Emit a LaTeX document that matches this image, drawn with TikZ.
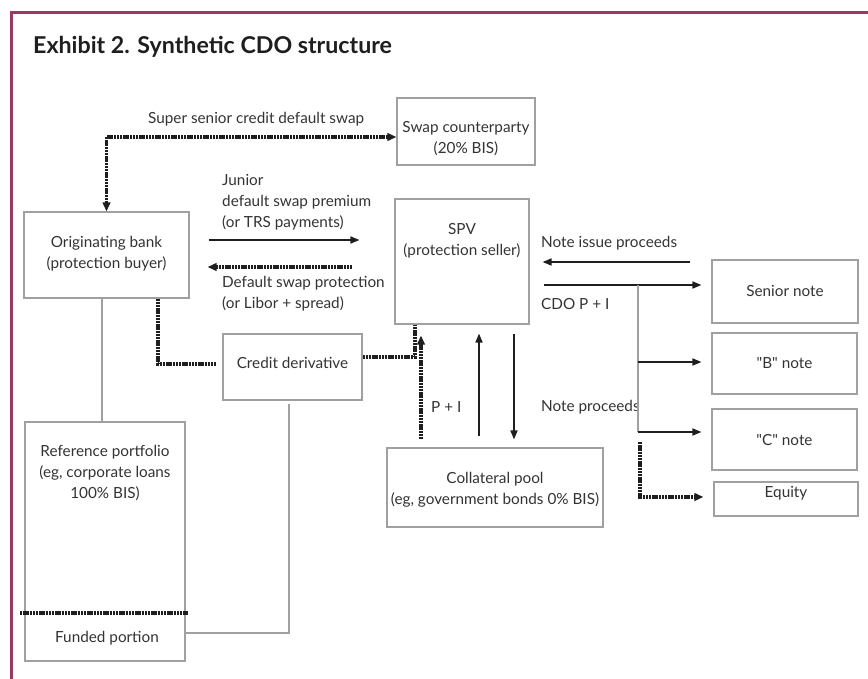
\documentclass[tikz,border=0pt]{standalone}
\usepackage{fontspec}
\setmainfont{Lato}
\usetikzlibrary{arrows.meta,calc}
\definecolor{frame}{HTML}{9A3A60}
\definecolor{boxgray}{HTML}{A0A0A0}
\definecolor{txt}{HTML}{333333}
\definecolor{ink}{HTML}{1E1E1E}
\tikzset{
  box/.style={draw=boxgray, line width=1.1pt, inner sep=0pt, minimum width=#1},
  lbl/.style={text=txt, inner sep=0pt, align=center, font=\fontsize{15.3}{21}\selectfont},
  sarr/.style={draw=ink, line width=1.6pt, -{Triangle[length=9pt,width=7pt]}},
  dotln/.style={draw=ink, line width=3.2pt, dash pattern=on 2.4pt off 0.8pt},
  darr/.style={dotln, -{Triangle[length=9pt,width=7.5pt]}},
  gline/.style={draw=boxgray, line width=1.1pt},
}
\begin{document}
\begin{tikzpicture}[x=1pt,y=-1pt]
\useasboundingbox (0,0) rectangle (868,679);
% frame
\draw[frame, line width=3pt] (11,679) -- (11,13) -- (868,13);
\node[anchor=base west, inner sep=0pt, text=ink, font=\fontsize{23.2}{27}\selectfont\bfseries] (title) at (33,54) {Exhibit 2. Synthetic CDO structure};

% boxes
\node[box=138pt, minimum height=67pt] (swap) at (466,131.5) {};
\node[box=165pt, minimum height=86pt] (orig) at (106.5,255) {};
\node[box=134pt, minimum height=125pt] (spv) at (462,261.5) {};
\node[box=146pt, minimum height=63pt] (senior) at (785,291.5) {};
\node[box=145pt, minimum height=61pt] (bnote) at (784.5,363.5) {};
\node[box=145pt, minimum height=61pt] (cnote) at (784.5,439.5) {};
\node[box=144pt, minimum height=34pt] (equity) at (786,499) {};
\node[box=216pt, minimum height=79pt] (coll) at (495,487.5) {};
\node[box=139pt, minimum height=66pt] (cred) at (292.5,367) {};
\node[box=160pt, minimum height=239pt] (ref) at (105,541.5) {};

% box texts
\node[lbl] (tswap) at (466,139) {Swap counterparty\\(20\% BIS)};
\node[lbl] (torig) at (106.5,254) {Originating bank\\(protection buyer)};
\node[lbl] (tspv) at (462,240.5) {SPV\\(protection seller)};
\node[lbl] (tsenior) at (785,291) {Senior note};
\node[lbl] (tb) at (784.5,363) {\textquotedbl B\textquotedbl\ note};
\node[lbl] (tc) at (784.5,440) {\textquotedbl C\textquotedbl\ note};
\node[lbl] (teq) at (786,493) {Equity};
\node[lbl] (tcoll) at (495,489.5) {Collateral pool\\(eg, government bonds 0\% BIS)};
\node[lbl] (tcred) at (292.5,363) {Credit derivative};
\node[lbl] (tref) at (105,473) {Reference portfolio\\(eg, corporate loans\\100\% BIS)};
\node[lbl] (tfund) at (107,638) {Funded portion};

% connector labels
\node[lbl, anchor=west] (lss) at (148,119) {Super senior credit default swap};
\node[lbl, anchor=west, align=left] (ljun) at (222,202) {Junior\\default swap premium\\(or TRS payments)};
\node[lbl, anchor=west, align=left] (ldef) at (222,293.5) {Default swap protection\\(or Libor + spread)};
\node[lbl, anchor=west] (lnip) at (541,243) {Note issue proceeds};
\node[lbl, anchor=west] (lcdo) at (541,304) {CDO P + I};
\node[lbl, anchor=west] (lpi) at (431,407) {P + I};
\node[lbl, anchor=west] (lnp) at (541,407) {Note proceeds};

% connectors
\draw[dotln, {Triangle[length=9pt,width=7.5pt]}-{Triangle[length=9pt,width=7.5pt]}]
  (swap.west |- 0,137) -| (orig.north);
\draw[sarr, shorten <=19pt, shorten >=35pt] (orig.east |- 0,240) -- (spv.west |- 0,240);
\draw[darr, shorten <=42pt, shorten >=18pt] (spv.west |- 0,267) -- (orig.east |- 0,267);
\draw[sarr, shorten <=21pt, shorten >=13pt] (senior.west |- 0,262) -- (spv.east |- 0,262);
\draw[sarr, shorten <=14pt, shorten >=10pt] (spv.east |- 0,285) -- (senior.west |- 0,285);
\coordinate (br) at (638,285);
\coordinate (brc) at (638,432);
\draw[gline] (br) -- (brc);
\draw[sarr, shorten >=10pt] (br |- 0,362) -- (bnote.west |- 0,362);
\draw[sarr, shorten >=10pt] (brc) -- (cnote.west |- brc);
\coordinate (eqs) at (640,442);
\draw[darr, shorten >=10pt] (eqs) |- (equity.west |- 0,497);
\draw[darr, shorten <=8pt, shorten >=11pt] (coll.north -| 421,0) -- (spv.south -| 421,0);
\draw[sarr, shorten <=11pt, shorten >=9pt] (coll.north -| 479,0) -- (spv.south -| 479,0);
\draw[sarr, shorten <=9pt, shorten >=8pt] (spv.south -| 514,0) -- (coll.north -| 514,0);
\draw[dotln] (cred.east |- 0,357) -| (spv.south -| 415,0);
\draw[dotln, shorten >=6pt] (orig.south -| 158,0) |- (cred.west |- 0,364);
\draw[gline] (orig.south -| 102,0) -- (ref.north -| 102,0);
\coordinate (dl) at (20,613);
\coordinate (dr) at (188,613);
\draw[dotln] (dl) -- (dr);
\draw[gline] (ref.east |- 0,633) -| ($(cred.south -| 289,0)+(0,3)$);
\end{tikzpicture}
\end{document}
